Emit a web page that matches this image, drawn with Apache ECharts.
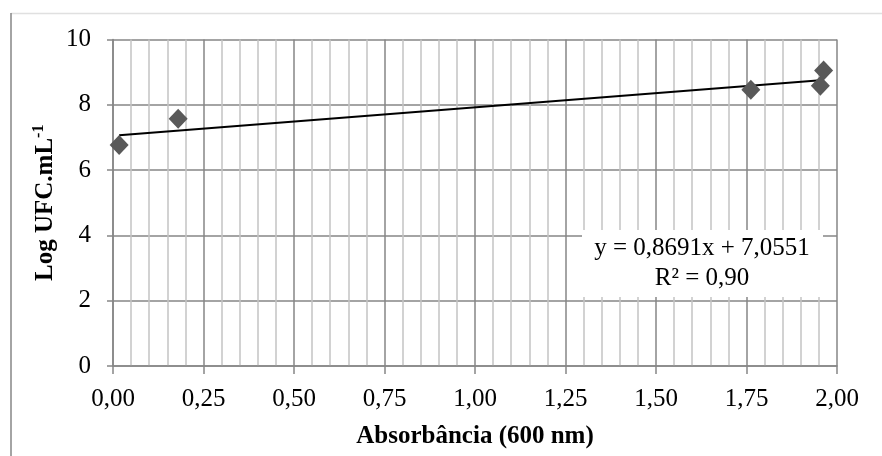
<!DOCTYPE html>
<html>
<head>
<meta charset="utf-8">
<script src="https://cdn.jsdelivr.net/npm/echarts@6/dist/echarts.min.js"></script>
<style>html,body{margin:0;padding:0;background:#fff;}#c{width:882px;height:456px;}</style>
</head>
<body>
<div id="c"></div>
<script>
// Data
var absorbance = [0.017, 0.18, 1.762, 1.954, 1.963];
var logUFC = [6.77, 7.57, 8.46, 8.58, 9.05];
var trendX = [0.017, 1.963];
var trendY = [7.07, 8.76];
var equationLines = ['y = 0,8691x + 7,0551', 'R² = 0,90'];
var xTicks = [0, 0.25, 0.5, 0.75, 1, 1.25, 1.5, 1.75, 2];
var yTicks = [0, 2, 4, 6, 8, 10];

var FONT = '"Liberation Serif", "Times New Roman", serif';
var points = absorbance.map(function (x, i) { return [x, logUFC[i]]; });
var trend = trendX.map(function (x, i) { return [x, trendY[i]]; });

var chart = echarts.init(document.getElementById('c'), null, {renderer: 'canvas'});
chart.setOption({
  animation: false,
  backgroundColor: '#fff',
  grid: {left: 113, right: 45, top: 39.5, bottom: 90, containLabel: false},
  xAxis: {
    type: 'value', min: xTicks[0], max: xTicks[xTicks.length - 1], interval: 0.25,
    name: 'Absorbância (600 nm)', nameLocation: 'middle', nameGap: 58,
    nameTextStyle: {fontFamily: FONT, fontSize: 25, fontWeight: 'bold', color: '#000'},
    axisLine: {show: true, lineStyle: {color: '#868686', width: 1.5}},
    axisTick: {show: true, length: 8, lineStyle: {color: '#868686', width: 1.5}},
    axisLabel: {fontFamily: FONT, fontSize: 25, color: '#000', margin: 21,
      formatter: function (v) { return v.toFixed(2).replace('.', ','); }},
    splitLine: {show: true, lineStyle: {color: '#868686', width: 1.5}},
    minorTick: {show: false, splitNumber: 5},
    minorSplitLine: {show: true, lineStyle: {color: '#c3c3c3', width: 1.5}}
  },
  yAxis: {
    type: 'value', min: yTicks[0], max: yTicks[yTicks.length - 1], interval: 2,
    name: '{m|Log UFC.mL}{s|-1}', nameLocation: 'middle', nameGap: 52, nameRotate: 90,
    nameMoveOverlap: false,
    nameTextStyle: {
      fontFamily: FONT, fontSize: 25, fontWeight: 'bold', color: '#000',
      rich: {
        m: {fontFamily: FONT, fontSize: 25, fontWeight: 'bold', color: '#000', lineHeight: 30},
        s: {fontFamily: FONT, fontSize: 16, fontWeight: 'bold', color: '#000', verticalAlign: 'top', lineHeight: 30, padding: [0, 0, 12, 0]}
      }
    },
    axisLine: {show: true, lineStyle: {color: '#868686', width: 1.5}},
    axisTick: {show: true, length: 6, lineStyle: {color: '#868686', width: 1.5}},
    axisLabel: {fontFamily: FONT, fontSize: 25, color: '#000', margin: 22},
    splitLine: {show: true, lineStyle: {color: '#868686', width: 1.5}}
  },
  series: [
    {
      type: 'line', data: trend, showSymbol: false, symbol: 'none',
      lineStyle: {color: '#000', width: 2}, z: 3, silent: true
    },
    {
      type: 'scatter', data: points, symbol: 'diamond', symbolSize: [19, 20],
      itemStyle: {color: '#595959', opacity: 1}, z: 4
    }
  ],
  graphic: [
    {type: 'line', shape: {x1: 11, y1: 13.5, x2: 882, y2: 13.5}, style: {stroke: '#e0e0e0', lineWidth: 1.5}, silent: true},
    {type: 'line', shape: {x1: 11, y1: 13, x2: 11, y2: 456}, style: {stroke: '#868686', lineWidth: 1.5}, silent: true},
    {type: 'rect', shape: {x: 582, y: 230, width: 241, height: 67}, style: {fill: '#fff'}, z: 10, silent: true},
    {type: 'text', x: 702, y: 248, z: 11, silent: true,
      style: {text: equationLines[0], fontFamily: FONT, fontSize: 25, fill: '#000', align: 'center', verticalAlign: 'middle'}},
    {type: 'text', x: 702, y: 278, z: 11, silent: true,
      style: {text: equationLines[1], fontFamily: FONT, fontSize: 25, fill: '#000', align: 'center', verticalAlign: 'middle'}}
  ]
});
</script>
</body>
</html>
